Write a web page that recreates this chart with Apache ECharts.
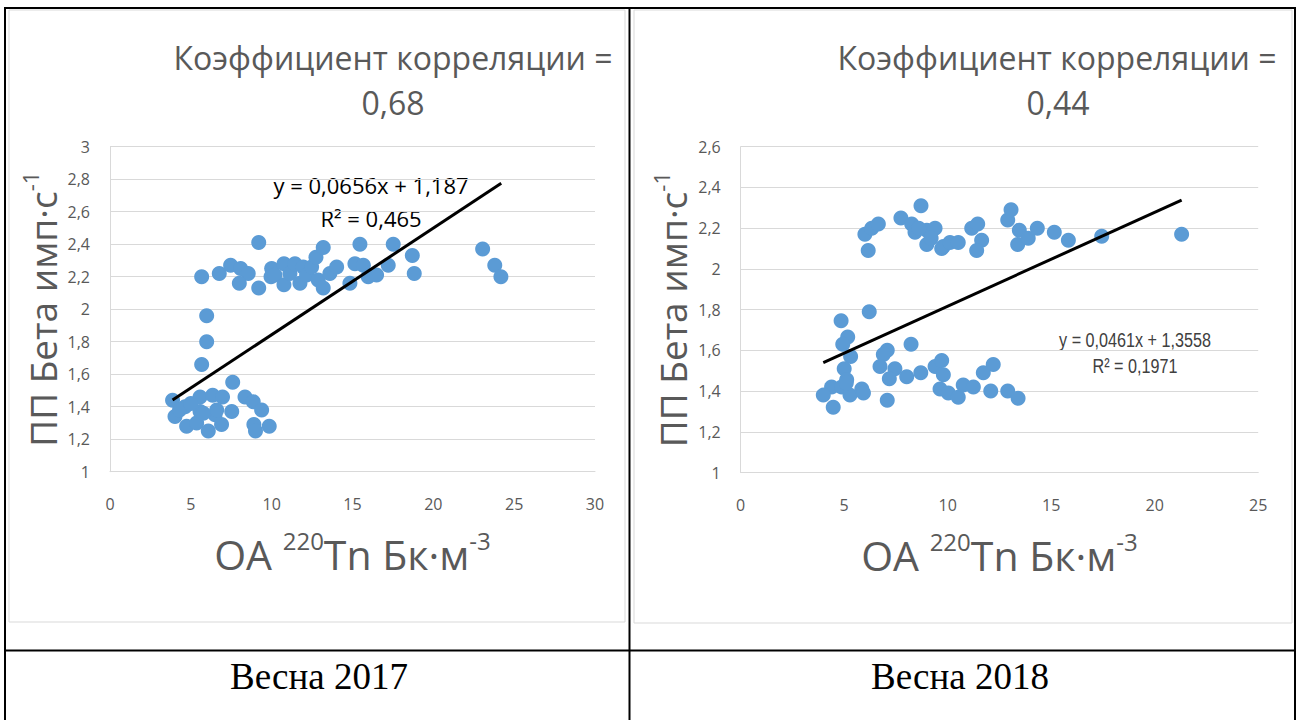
<!DOCTYPE html>
<html>
<head>
<meta charset="utf-8">
<script src="https://cdn.jsdelivr.net/npm/echarts@6/dist/echarts.min.js"></script>
<style>
  html, body { margin: 0; padding: 0; background: #fff; }
  #main { width: 1299px; height: 720px; }
</style>
</head>
<body>
<div id="main"></div>
<script>
// Весна 2017
const x2017 = [5.67, 6.76, 7.46, 8.08, 8.55, 8.0, 9.2, 9.2, 10.0, 9.96, 10.2, 10.76, 10.76, 11.13, 11.44, 11.75, 11.95, 12.16, 12.47, 12.74,
  13.19, 12.88, 13.19, 13.6, 14.02, 14.84, 15.15, 15.46, 15.67, 15.97, 16.49, 17.21, 17.52, 18.7, 18.82, 23.05, 23.8, 24.18,
  5.98, 5.98, 5.67, 7.59,
  3.87, 4.02, 4.64, 4.74, 5.57, 5.57, 5.36, 6.08, 6.35, 6.96, 7.53, 6.9, 6.5, 6.6, 5.77, 8.35, 8.86, 9.38, 8.9, 9.0, 9.85, 4.3, 5.0];
const y2017 = [2.20, 2.22, 2.27, 2.25, 2.22, 2.16, 2.41, 2.13, 2.25, 2.20, 2.21, 2.28, 2.15, 2.22, 2.28, 2.16, 2.26, 2.21, 2.26, 2.32,
  2.38, 2.18, 2.13, 2.22, 2.26, 2.16, 2.28, 2.40, 2.27, 2.20, 2.21, 2.27, 2.40, 2.33, 2.22, 2.37, 2.27, 2.20,
  1.96, 1.80, 1.66, 1.55,
  1.44, 1.34, 1.40, 1.28, 1.46, 1.37, 1.30, 1.25, 1.47, 1.46, 1.37, 1.29, 1.35, 1.38, 1.36, 1.46, 1.43, 1.38, 1.29, 1.25, 1.28, 1.38, 1.42];

// Весна 2018
const x2018 = [6.0, 6.33, 6.65, 6.16, 7.74, 8.71, 8.26, 8.42, 8.99, 9.39, 8.99, 9.71, 9.79, 10.11, 10.51, 11.16, 11.45, 11.64, 11.40,
  12.9, 13.06, 13.46, 13.38, 13.89, 14.33, 15.15, 15.83, 17.44, 21.3, 8.6, 9.2,
  4.85, 6.21, 5.17, 4.93, 5.31, 5.0, 8.23, 7.08, 6.89, 6.73, 7.45, 7.18, 8.02, 8.7, 9.39, 9.71, 9.79, 9.63, 10.03, 10.51, 10.75,
  11.24, 11.72, 12.2, 12.08, 12.9, 13.4, 4.39, 3.99, 4.47, 4.88, 5.12, 5.28, 5.85, 5.93, 7.08, 5.1];
const y2018 = [2.17, 2.20, 2.22, 2.09, 2.25, 2.31, 2.22, 2.18, 2.19, 2.20, 2.12, 2.10, 2.11, 2.13, 2.13, 2.20, 2.22, 2.14, 2.09,
  2.24, 2.29, 2.19, 2.12, 2.15, 2.20, 2.18, 2.14, 2.16, 2.17, 2.20, 2.15,
  1.745, 1.79, 1.665, 1.63, 1.57, 1.51, 1.63, 1.60, 1.58, 1.52, 1.51, 1.46, 1.47, 1.49, 1.52, 1.55, 1.48, 1.41, 1.39, 1.37, 1.43,
  1.42, 1.49, 1.53, 1.40, 1.40, 1.365, 1.42, 1.38, 1.32, 1.42, 1.455, 1.38, 1.41, 1.39, 1.355, 1.44];

// линии тренда (из уравнений на графиках)
const trend2017 = { slope: 0.0656, intercept: 1.187, from: 3.87, to: 24.2 };
const trend2018 = { slope: 0.0461, intercept: 1.3558, from: 3.99, to: 21.3 };

const zip = (xs, ys) => xs.map((x, i) => [x, ys[i]]);
const trendLine = t => [[t.from, t.slope * t.from + t.intercept], [t.to, t.slope * t.to + t.intercept]];

const FONT = '"Open Sans", "Noto Sans", sans-serif';
const NARROW = '21px "Liberation Sans", Arial, sans-serif';
const grey = '#595959';
const comma = v => String(+v.toFixed(1)).replace('.', ',');

function xAxis(idx, max) {
  return {
    gridIndex: idx, type: 'value', min: 0, max: max, interval: 5,
    name: '{a|OA }{s|220}{a|Tn Бк·м}{s|-3}',
    nameLocation: 'middle', nameGap: 57,
    nameTextStyle: {
      rich: {
        a: { fontFamily: FONT, fontSize: 41, color: grey, lineHeight: 50 },
        s: { fontFamily: FONT, fontSize: 24, color: grey, verticalAlign: 'top', lineHeight: 50, padding: [0, 0, 18, 0] }
      }
    },
    axisLine: { show: true, lineStyle: { color: '#d9d9d9', width: 1 } },
    axisTick: { show: false },
    splitLine: { show: false },
    axisLabel: { color: grey, fontSize: 16, fontFamily: FONT, margin: 24 }
  };
}
function yAxis(idx, max) {
  return {
    gridIndex: idx, type: 'value', min: 1, max: max, interval: 0.2,
    name: '{a|ПП Бета имп·с}{s|-1}',
    nameLocation: 'middle', nameGap: 45,
    nameTextStyle: {
      rich: {
        a: { fontFamily: FONT, fontSize: 37, color: grey, lineHeight: 46 },
        s: { fontFamily: FONT, fontSize: 22, color: grey, verticalAlign: 'top', lineHeight: 46, padding: [0, 0, 17, 0] }
      }
    },
    axisLine: { show: true, lineStyle: { color: '#d9d9d9', width: 1 } },
    axisTick: { show: false },
    splitLine: { show: true, lineStyle: { color: '#d9d9d9', width: 1 } },
    axisLabel: { color: grey, fontSize: 16, fontFamily: FONT, margin: 20, formatter: comma }
  };
}

const chart = echarts.init(document.getElementById('main'), null, { renderer: 'svg' });
chart.setOption({
  animation: false,
  grid: [
    { left: 110, top: 146.7, width: 485, height: 325 },
    { left: 740.7, top: 146.7, width: 517.5, height: 325.8 }
  ],
  xAxis: [xAxis(0, 30), xAxis(1, 25)],
  yAxis: [yAxis(0, 3), yAxis(1, 2.6)],
  series: [
    { type: 'scatter', xAxisIndex: 0, yAxisIndex: 0, data: zip(x2017, y2017), symbolSize: 15, itemStyle: { color: '#5b9bd5', opacity: 1 } },
    { type: 'line', xAxisIndex: 0, yAxisIndex: 0, data: trendLine(trend2017), symbol: 'none', lineStyle: { color: '#000', width: 3 } },
    { type: 'scatter', xAxisIndex: 1, yAxisIndex: 1, data: zip(x2018, y2018), symbolSize: 15, itemStyle: { color: '#5b9bd5', opacity: 1 } },
    { type: 'line', xAxisIndex: 1, yAxisIndex: 1, data: trendLine(trend2018), symbol: 'none', lineStyle: { color: '#000', width: 3 } }
  ],
  graphic: [
    // рамки диаграмм
    { type: 'rect', z: -10, shape: { x: 9, y: 10, width: 616, height: 612 }, style: { fill: '#fff', stroke: '#d9d9d9', lineWidth: 1 } },
    { type: 'rect', z: -10, shape: { x: 634, y: 10, width: 658, height: 613 }, style: { fill: '#fff', stroke: '#d9d9d9', lineWidth: 1 } },
    // таблица
    { type: 'line', shape: { x1: 4, y1: 8, x2: 1296, y2: 8 }, style: { stroke: '#000', lineWidth: 2 } },
    { type: 'line', shape: { x1: 5, y1: 8, x2: 5, y2: 720 }, style: { stroke: '#000', lineWidth: 2 } },
    { type: 'line', shape: { x1: 629.5, y1: 8, x2: 629.5, y2: 720 }, style: { stroke: '#000', lineWidth: 2 } },
    { type: 'line', shape: { x1: 1295, y1: 8, x2: 1295, y2: 720 }, style: { stroke: '#000', lineWidth: 2 } },
    { type: 'line', shape: { x1: 4, y1: 650.5, x2: 1296, y2: 650.5 }, style: { stroke: '#000', lineWidth: 2 } },
    // заголовки
    { type: 'text', style: { text: 'Коэффициент корреляции =', x: 393, y: 57, align: 'center', verticalAlign: 'middle', font: '32px ' + FONT, fill: grey } },
    { type: 'text', style: { text: '0,68', x: 393, y: 102, align: 'center', verticalAlign: 'middle', font: '32px ' + FONT, fill: grey } },
    { type: 'text', style: { text: 'Коэффициент корреляции =', x: 1057, y: 57, align: 'center', verticalAlign: 'middle', font: '32px ' + FONT, fill: grey } },
    { type: 'text', style: { text: '0,44', x: 1058, y: 102, align: 'center', verticalAlign: 'middle', font: '32px ' + FONT, fill: grey } },
    // уравнения
    { type: 'text', style: { text: 'y = 0,0656x + 1,187', x: 371, y: 185, align: 'center', verticalAlign: 'middle', font: '22px ' + FONT, fill: '#000' } },
    { type: 'text', style: { text: 'R² = 0,465', x: 371, y: 218, align: 'center', verticalAlign: 'middle', font: '22px ' + FONT, fill: '#000' } },
    { type: 'text', x: 1135, y: 340, scaleX: 0.77, style: { text: 'y = 0,0461x + 1,3558', x: 0, y: 0, align: 'center', verticalAlign: 'middle', font: NARROW, fill: '#404040' } },
    { type: 'text', x: 1135, y: 366, scaleX: 0.77, style: { text: 'R² = 0,1971', x: 0, y: 0, align: 'center', verticalAlign: 'middle', font: NARROW, fill: '#404040' } },
    // подписи
    { type: 'text', style: { text: 'Весна 2017', x: 319, y: 676, align: 'center', verticalAlign: 'middle', font: '37px "Liberation Serif", "DejaVu Serif", serif', fill: '#000' } },
    { type: 'text', style: { text: 'Весна 2018', x: 960, y: 676, align: 'center', verticalAlign: 'middle', font: '37px "Liberation Serif", "DejaVu Serif", serif', fill: '#000' } }
  ]
});
</script>
</body>
</html>
